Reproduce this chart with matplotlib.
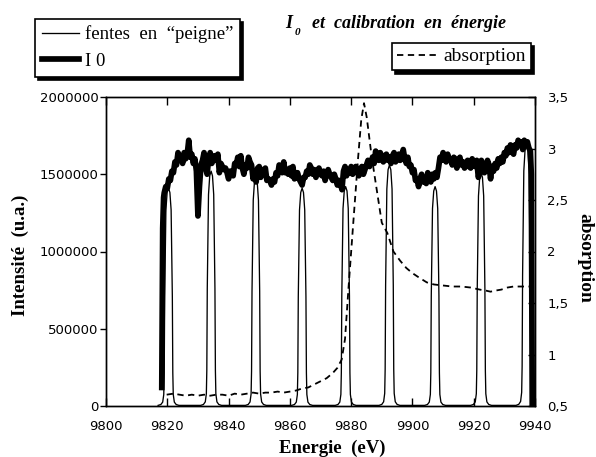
import numpy as np
import matplotlib
matplotlib.use("Agg")
from matplotlib import pyplot as plt
from matplotlib.ticker import FuncFormatter

# ---- data ----
# I0 (thick line), in units of 1000
i0_start_e = [9818.2, 9818.5, 9818.8]
i0_start = [120, 1150, 1350]
i0_e = np.arange(9819, 9939, 0.5)  # 0.5 eV grid 9819..9938.5
i0_vals = [
    1380, 1420, 1410, 1470, 1460, 1520, 1510, 1580, 1560, 1640,
    1610, 1620, 1570, 1640, 1600, 1630, 1720, 1610, 1630, 1570,
    1600, 1520, 1230, 1420, 1560, 1590, 1640, 1540, 1500, 1600,
    1640, 1570, 1590, 1620, 1590, 1630, 1510, 1570, 1550, 1530,
    1540, 1510, 1470, 1520, 1520, 1490, 1570, 1560, 1610, 1550,
    1620, 1540, 1500, 1560, 1540, 1610, 1580, 1560, 1470, 1520,
    1450, 1540, 1550, 1480, 1530, 1510, 1540, 1460, 1470, 1460,
    1430, 1470, 1450, 1510, 1490, 1560, 1550, 1510, 1580, 1510,
    1530, 1500, 1540, 1490, 1550, 1470, 1480, 1510, 1470, 1450,
    1430, 1480, 1480, 1520, 1500, 1560, 1540, 1500, 1530, 1480,
    1510, 1540, 1500, 1490, 1520, 1460, 1500, 1530, 1500, 1480,
    1460, 1500, 1470, 1430, 1460, 1440, 1400, 1520, 1550, 1490,
    1530, 1510, 1550, 1500, 1530, 1550, 1520, 1490, 1530, 1550,
    1500, 1530, 1560, 1590, 1550, 1580, 1610, 1570, 1650, 1600,
    1590, 1640, 1610, 1580, 1620, 1630, 1590, 1610, 1570, 1620,
    1640, 1580, 1610, 1630, 1590, 1620, 1660, 1600, 1570, 1610,
    1550, 1560, 1510, 1530, 1460, 1470, 1420, 1470, 1500, 1450,
    1470, 1440, 1510, 1490, 1450, 1500, 1470, 1510, 1480, 1540,
    1610, 1590, 1640, 1610, 1580, 1630, 1590, 1600, 1560, 1610,
    1600, 1540, 1580, 1610, 1560, 1580, 1540, 1560, 1590, 1550,
    1540, 1600, 1570, 1550, 1590, 1480, 1510, 1590, 1550, 1510,
    1540, 1590, 1560, 1470, 1550, 1520, 1570, 1540, 1600, 1570,
    1610, 1580, 1640, 1620, 1670, 1640, 1690, 1650, 1630, 1690,
    1670, 1720, 1690, 1710, 1660, 1720, 1690, 1710, 1670, 1650,
]
i0_end_e = [9938.8, 9939.1]
i0_end = [1500, 0]

# comb of slits: peak centres (eV) and peak heights (x1000)
comb_centres = [9820.4, 9834.3, 9848.9, 9864.0, 9878.2, 9892.5, 9907.4, 9922.4, 9937.2]
comb_heights = [1410, 1520, 1480, 1410, 1420, 1560, 1420, 1510, 1690]
# shape of one comb peak (offset in eV, fraction of height)
shape_de = [-3.4, -2.5, -1.9, -1.55, -1.4, -1.25, -0.85, -0.45, 0,
            0.45, 0.85, 1.25, 1.4, 1.55, 1.9, 2.5, 3.4]
shape_fr = [0.0, 0.004, 0.015, 0.05, 0.15, 0.5, 0.9, 0.98, 1.0,
            0.98, 0.9, 0.5, 0.15, 0.05, 0.015, 0.004, 0.0]
comb_base = 4

# absorption (right axis)
abs_e = [9819.8, 9822, 9824, 9826, 9828, 9830, 9832, 9834, 9836, 9838, 9840, 9842,
         9844, 9846, 9848, 9850, 9852, 9854, 9856, 9858, 9860, 9862, 9864, 9866,
         9868, 9870, 9872, 9874, 9875.5, 9876.9, 9878, 9879.1, 9880.7, 9882.3,
         9883.3, 9884.2, 9885.1, 9886.7, 9888.3, 9890.0, 9891.8, 9893.8, 9896,
         9898, 9900, 9902, 9904.7, 9907, 9910, 9913, 9916, 9919, 9922, 9924,
         9925.5, 9927, 9929, 9931, 9933, 9935, 9937, 9938.3]
abs_a = [0.61, 0.62, 0.61, 0.60, 0.61, 0.60, 0.61, 0.60, 0.61, 0.61, 0.60, 0.62,
         0.61, 0.62, 0.63, 0.62, 0.63, 0.63, 0.64, 0.63, 0.64, 0.65, 0.67, 0.68,
         0.71, 0.74, 0.77, 0.82, 0.87, 0.95, 1.15, 1.63, 2.28, 2.92,
         3.28, 3.44, 3.30, 2.92, 2.61, 2.28, 2.18, 2.00, 1.91,
         1.84, 1.79, 1.75, 1.70, 1.68, 1.67, 1.66, 1.66, 1.65, 1.63, 1.62,
         1.61, 1.62, 1.63, 1.65, 1.66, 1.66, 1.66, 1.66]

x_ticks = [9800, 9820, 9840, 9860, 9880, 9900, 9920, 9940]
y_ticks = [0, 500000, 1000000, 1500000, 2000000]
y2_ticks = [0.5, 1, 1.5, 2, 2.5, 3, 3.5]

serif = "Liberation Serif"
sans = "DejaVu Sans"

# ---- build curves ----
i0_x = list(i0_start_e) + list(i0_e) + list(i0_end_e)
i0_y = np.array(list(i0_start) + i0_vals + list(i0_end)) * 1000

comb_x, comb_y = [], []
for c, h in zip(comb_centres, comb_heights):
    for d, f in zip(shape_de, shape_fr):
        comb_x.append(c + d)
        comb_y.append((comb_base + f * (h - comb_base)) * 1000)

fig = plt.figure(figsize=(5.96, 4.57), dpi=100)
ax = fig.add_axes([106 / 596, 1 - 406 / 457, 429 / 596, 309 / 457])

l_comb, = ax.plot(comb_x, comb_y, color="k", lw=0.95)
l_i0, = ax.plot(i0_x, i0_y, color="k", lw=4.1)

ax.set_xlim(9800, 9940)
ax.set_ylim(0, 2000000)
ax.set_xticks(x_ticks)
ax.set_yticks(y_ticks)
ax.yaxis.set_major_formatter(FuncFormatter(lambda v, p: "%d" % v))
ax.tick_params(axis="x", direction="in", top=True, length=6, width=1, pad=10,
               labelsize=9.5)
ax.tick_params(axis="y", direction="out", length=4, width=1, pad=1.5,
               labelsize=9.5)
for lab in ax.get_xticklabels() + ax.get_yticklabels():
    lab.set_family(sans)

ax2 = ax.twinx()
l_abs, = ax2.plot(abs_e, abs_a, color="k", lw=1.3, ls=(0, (3.5, 2.5)))
ax2.set_ylim(0.5, 3.5)
ax2.set_yticks(y2_ticks)
ax2.yaxis.set_major_formatter(FuncFormatter(lambda v, p: ("%g" % v).replace(".", ",")))
ax2.tick_params(axis="y", direction="in", length=5, width=1, pad=9, labelsize=9.5)
for lab in ax2.get_yticklabels():
    lab.set_family(sans)

for a in (ax, ax2):
    for s in a.spines.values():
        s.set_linewidth(1.0)

# labels
fig.text(20 / 596, 1 - 255 / 457, "Intensité  (u.a.)", rotation=90, ha="center",
         va="center", family=serif, weight="bold", size=13.5)
fig.text(332 / 596, 1 - 448 / 457, "Energie  (eV)", ha="center", va="center",
         family=serif, weight="bold", size=13.5)
fig.text(585 / 596, 1 - 258 / 457, "absorption", rotation=270, ha="center",
         va="center", family=serif, weight="bold", size=14)

# title
tkw = dict(family=serif, weight="bold", style="italic")
fig.text(285 / 596, 1 - 28 / 457, "I", size=13, va="baseline", **tkw)
fig.text(295 / 596, 1 - 35 / 457, "0", size=8, va="baseline", **tkw)
fig.text(312 / 596, 1 - 28 / 457, "et  calibration  en  énergie", size=13,
         va="baseline", **tkw)

# legends
shadow = {"facecolor": "k", "edgecolor": "k", "alpha": 1, "ox": 2.5, "oy": -2.5}
leg1 = fig.legend([l_comb, l_i0], ["fentes  en  “peigne”", "I 0"], loc="upper left",
                  bbox_to_anchor=(35 / 596, 1 - 19 / 457), borderaxespad=0,
                  fancybox=False, shadow=shadow, framealpha=1,
                  prop={"family": serif, "size": 13.5}, handlelength=2.0,
                  handletextpad=0.3, borderpad=0.35, labelspacing=0.5)
leg2 = fig.legend([l_abs], ["absorption"], loc="upper left",
                  bbox_to_anchor=(392 / 596, 1 - 43 / 457), borderaxespad=0,
                  fancybox=False, shadow=shadow, framealpha=1,
                  prop={"family": serif, "size": 14}, handlelength=2.2,
                  handletextpad=0.2, borderpad=0.25)
for lg in (leg1, leg2):
    lg.get_frame().set_edgecolor("k")
    lg.get_frame().set_linewidth(1.2)

fig.savefig("out.png", dpi=100)
